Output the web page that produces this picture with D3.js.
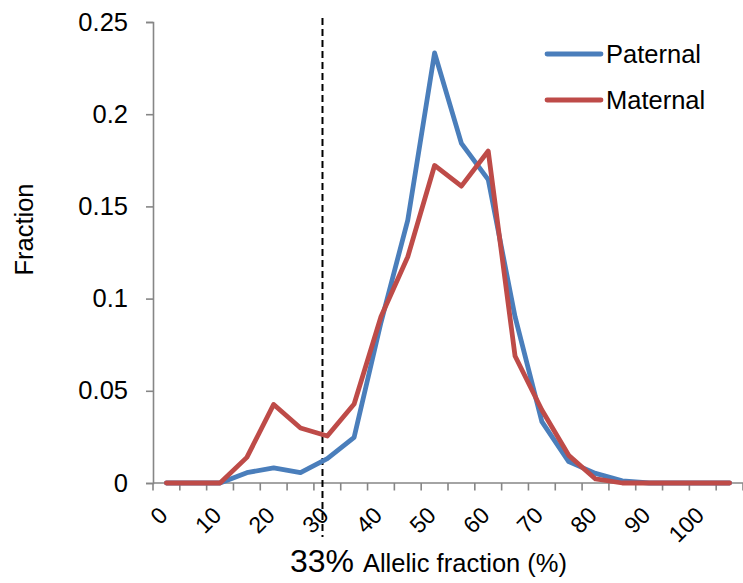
<!DOCTYPE html>
<html>
<head>
<meta charset="utf-8">
<script src="https://cdn.jsdelivr.net/npm/d3@7/dist/d3.min.js"></script>
<style>
  html, body { margin: 0; padding: 0; background: #fff; }
  svg { display: block; font-family: "Liberation Sans", Arial, sans-serif; }
</style>
</head>
<body>
<svg id="chart" width="743" height="583"></svg>
<script>
// ---- data ----
const categories = [0,5,10,15,20,25,30,35,40,45,50,55,60,65,70,75,80,85,90,95,100,105];
const paternal = [0,0,0,0.0056,0.0082,0.0056,0.0132,0.0248,0.087,0.1426,0.2332,0.1842,0.1645,0.0902,0.0333,0.0116,0.0052,0.0012,0,0,0,0];
const maternal = [0,0,0,0.0139,0.0426,0.0298,0.0255,0.0428,0.0902,0.1227,0.1722,0.1610,0.1800,0.0689,0.0396,0.0150,0.0022,0,0,0,0,0];
const seriesNames = ["Paternal", "Maternal"];
const seriesColors = ["#4A7EBB", "#BE4B48"];
const yTicks = [0, 0.05, 0.1, 0.15, 0.2, 0.25];
const xLabelCats = [0,10,20,30,40,50,60,70,80,90,100];
const markerValue = [29.1];
const markerLabel = "33%";
const xTitle = "Allelic fraction (%)";
const yTitle = "Fraction";

// ---- layout ----
const svg = d3.select("#chart");
const plotLeft = 153, plotRight = 743, plotTop = 22, plotBottom = 483;
const axisColor = "#868686";

const x = d3.scaleBand().domain(categories).range([plotLeft, plotRight]).padding(0);
const bw = x.bandwidth();
const xc = d => x(d) + bw / 2;
// linear equivalent of category positions for the marker
const xLin = d3.scaleLinear()
  .domain([categories[0] - 2.5, categories[categories.length - 1] + 2.5])
  .range([plotLeft, plotRight]);
const y = d3.scaleLinear().domain([0, 0.25]).range([plotBottom, plotTop]);

// ---- y axis ----
const yAxis = d3.axisLeft(y).tickValues(yTicks).tickSize(7).tickPadding(18)
  .tickFormat(d => String(d));
const gy = svg.append("g").attr("transform", `translate(${plotLeft},0)`).call(yAxis);
gy.select(".domain").attr("stroke", axisColor).attr("stroke-width", 1.6);
gy.selectAll(".tick line").attr("stroke", axisColor).attr("stroke-width", 1.6);
gy.selectAll(".tick text").attr("fill", "#000").attr("font-size", 25.5)
  .attr("font-family", "Liberation Sans, Arial, sans-serif");

// ---- x axis (category style, ticks between categories) ----
const gx = svg.append("g");
gx.append("line").attr("x1", plotLeft).attr("x2", plotRight).attr("y1", plotBottom).attr("y2", plotBottom)
  .attr("stroke", axisColor).attr("stroke-width", 1.6);
const boundaries = categories.map(c => x(c)).concat([plotRight]);
gx.selectAll("line.tk").data(boundaries).join("line").attr("class", "tk")
  .attr("x1", d => d).attr("x2", d => d).attr("y1", plotBottom).attr("y2", plotBottom + 7.5)
  .attr("stroke", axisColor).attr("stroke-width", 1.6);
gx.selectAll("text.xl").data(xLabelCats).join("text").attr("class", "xl")
  .attr("transform", d => `translate(${xc(d) - 3},${plotBottom + 28}) rotate(-45)`)
  .attr("text-anchor", "end").attr("dy", "0.35em")
  .attr("font-size", 23).attr("fill", "#000")
  .text(d => d);

// ---- marker (dashed vertical line) ----
svg.selectAll("line.marker").data(markerValue).join("line").attr("class", "marker")
  .attr("x1", d => xLin(d)).attr("x2", d => xLin(d))
  .attr("y1", y(0.25) - 4).attr("y2", y(0) + 54)
  .attr("stroke", "#000").attr("stroke-width", 2).attr("stroke-dasharray", "7,4");

// ---- lines ----
const line = d3.line().x((d, i) => xc(categories[i])).y(d => y(d));
[paternal, maternal].forEach((vals, k) => {
  svg.append("path").datum(vals).attr("d", line)
    .attr("fill", "none").attr("stroke", seriesColors[k]).attr("stroke-width", 4.8)
    .attr("stroke-linejoin", "round").attr("stroke-linecap", "round");
});

// ---- legend ----
const lg = svg.append("g");
seriesNames.forEach((name, k) => {
  const ly = 54 + k * 46;
  lg.append("line").attr("x1", 547).attr("x2", 601).attr("y1", ly).attr("y2", ly)
    .attr("stroke", seriesColors[k]).attr("stroke-width", 4.8).attr("stroke-linecap", "round");
  lg.append("text").attr("x", 606).attr("y", ly + 9).attr("font-size", 25.5)
    .attr("fill", "#000").text(name);
});

// ---- titles ----
const xt = svg.append("text").attr("x", 290).attr("y", 572).attr("fill", "#000");
xt.append("tspan").attr("font-size", 32).text(markerLabel + " ");
xt.append("tspan").attr("font-size", 25.5).text(xTitle);

svg.append("text").attr("transform", `translate(33,229.5) rotate(-90)`)
  .attr("text-anchor", "middle").attr("font-size", 25.5).attr("fill", "#000").text(yTitle);
</script>
</body>
</html>
